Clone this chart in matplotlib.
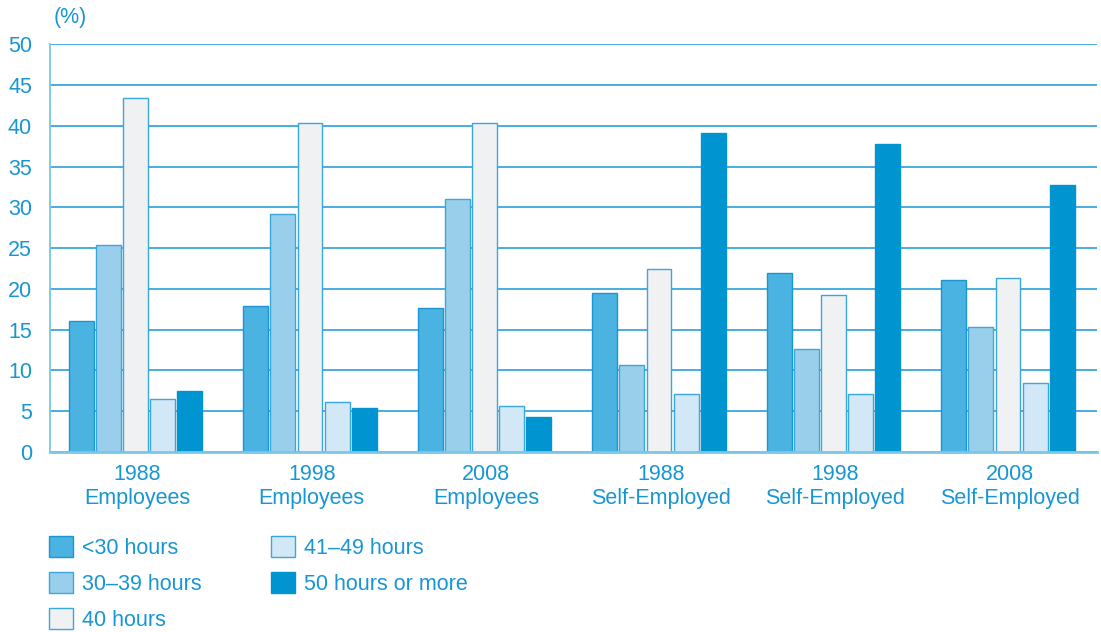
import matplotlib
matplotlib.use("Agg")
import matplotlib.pyplot as plt
import numpy as np

categories = ["1988\nEmployees", "1998\nEmployees", "2008\nEmployees",
              "1988\nSelf-Employed", "1998\nSelf-Employed", "2008\nSelf-Employed"]
series_names = ["<30 hours", "30\u201339 hours", "40 hours", "41\u201349 hours", "50 hours or more"]
lt30 = [16.1, 17.9, 17.6, 19.5, 22.0, 21.1]
h30_39 = [25.4, 29.2, 31.0, 10.7, 12.6, 15.3]
h40 = [43.4, 40.3, 40.3, 22.4, 19.3, 21.3]
h41_49 = [6.5, 6.1, 5.6, 7.1, 7.1, 8.5]
h50plus = [7.5, 5.4, 4.3, 39.1, 37.8, 32.8]
yticks = [0, 5, 10, 15, 20, 25, 30, 35, 40, 45, 50]

series = [lt30, h30_39, h40, h41_49, h50plus]
fills = ["#4ab3e2", "#9acfec", "#f0f1f3", "#d2e8f6", "#0094d0"]
edges = ["#1a96d2", "#3aa7dc", "#3aa7dc", "#3aa7dc", "#0094d0"]
txt = "#1796d3"
fs = 15.5

plt.rcParams['font.family'] = ['Liberation Sans', 'DejaVu Sans']
fig = plt.figure(figsize=(11.01, 6.32), dpi=100)
ax = fig.add_axes([50/1101, 1-452/632, 1047/1101, (452-44.3)/632])

x = np.arange(len(categories))
pitch = 0.155
width = 0.143
for i, (vals, fc, ec) in enumerate(zip(series, fills, edges)):
    ax.bar(x + (i-2)*pitch - 0.01, vals, width, color=fc, edgecolor=ec, linewidth=1.0,
           label=series_names[i], zorder=3)

ax.set_xlim(-0.5, len(categories)-0.5)
ax.set_ylim(0, 50)
ax.set_yticks(yticks)
ax.set_yticklabels([str(t) for t in yticks])
ax.set_xticks(x)
ax.set_xticklabels(categories, linespacing=1.15)
ax.tick_params(axis='both', length=0, colors=txt, labelsize=fs)
ax.tick_params(axis='y', pad=13)
ax.tick_params(axis='x', pad=9)
ax.yaxis.grid(True, color="#3aa7dc", linewidth=1.3, zorder=0)
ax.set_axisbelow(True)
for s in ["top", "right"]:
    ax.spines[s].set_visible(False)
ax.spines["left"].set_color("#7cc6e6")
ax.spines["left"].set_linewidth(1.3)
ax.spines["bottom"].set_color("#7cc6e6")
ax.spines["bottom"].set_linewidth(2)
ax.spines["bottom"].set_zorder(4)

fig.text(54/1101, 1-18/632, "(%)", color=txt, fontsize=fs, va="center", ha="left")

leg = fig.legend(loc="upper left", bbox_to_anchor=(49/1101, 1-536/632), ncol=2,
                 frameon=False, fontsize=fs, handlelength=1.12, handleheight=1.12,
                 handletextpad=0.42, labelspacing=0.62, columnspacing=3.2,
                 borderaxespad=0, borderpad=0)
for t in leg.get_texts():
    t.set_color(txt)

fig.savefig("out.png", dpi=100)
